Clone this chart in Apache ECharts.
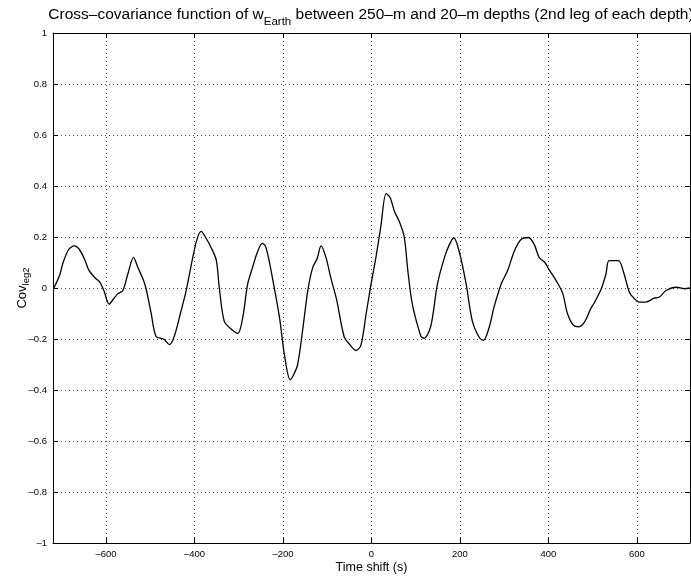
<!DOCTYPE html>
<html>
<head>
<meta charset="utf-8">
<script src="https://cdn.jsdelivr.net/npm/echarts@6/dist/echarts.min.js"></script>
<style>html,body{margin:0;padding:0;background:#fff}#c{width:691px;height:577px}</style>
</head>
<body>
<div id="c"></div>
<script>
// Time shift (s)
const timeShift = [-718,-705,-698,-685,-672,-660,-648,-639,-625,-615,-605,-593,-584,-574,-562,-550,-538,-528,-517,-510,-498,-487,-470,-457,-446,-432,-419,-397,-385,-374,-363,-351,-344,-333,-318,-302,-291,-280,-269,-258,-247,-240,-233,-224,-208,-197,-184,-176,-167,-156,-144,-133,-123,-114,-103,-92,-79,-62,-50,-35,-24,-12,-1,10,21,33,42,52,63,74,82,90,97,112,119,134,149,165,176,186,198,214,228,244,253,266,277,293,308,323,338,355,368,379,392,402,417,432,443,456,468,481,496,503,519,530,537,558,571,583,596,605,620,639,651,666,689,707,720];
// Cov_leg2 values
const covLeg2 = [0,0.05,0.095,0.15,0.165,0.15,0.11,0.07,0.04,0.025,-0.01,-0.063,-0.045,-0.023,-0.01,0.06,0.12,0.08,0.037,0,-0.1,-0.19,-0.2,-0.222,-0.19,-0.1,-0.01,0.175,0.222,0.195,0.16,0.11,0,-0.13,-0.16,-0.178,-0.115,0.015,0.08,0.14,0.175,0.165,0.12,0.04,-0.115,-0.26,-0.36,-0.34,-0.3,-0.17,-0.01,0.08,0.115,0.165,0.12,0.04,-0.045,-0.19,-0.22,-0.245,-0.225,-0.1,0.015,0.12,0.24,0.37,0.355,0.3,0.26,0.2,0.07,-0.04,-0.1,-0.19,-0.197,-0.15,0.015,0.12,0.17,0.197,0.145,0.015,-0.13,-0.195,-0.205,-0.155,-0.075,0.015,0.07,0.145,0.19,0.198,0.17,0.12,0.1,0.07,0.03,-0.02,-0.1,-0.145,-0.152,-0.135,-0.08,-0.06,-0.005,0.055,0.107,0.107,0.055,-0.017,-0.045,-0.055,-0.055,-0.04,-0.035,-0.01,0.003,-0.003,0];
const xTicks = [-600,-400,-200,0,200,400,600];
const xRange = [-720, 720];
const yRange = [-1, 1];
const yStep = 0.2;

const FONT = 'Liberation Sans, Arial, Helvetica, sans-serif';
const fmtMinus = v => String(Math.round(v*10)/10).replace('-', '\u2013');
const data = timeShift.map((t,i)=>[t, covLeg2[i]]);
const gridLine = {show:true, lineStyle:{color:'#444', type:[1,3], width:1}};

const chart = echarts.init(document.getElementById('c'), null, {renderer:'canvas'});
chart.setOption({
  animation:false,
  backgroundColor:'#fff',
  title:{
    text:'{a|Cross\u2013covariance function of w}{s|Earth}{a| between 250\u2013m and 20\u2013m depths (2nd leg of each depth)}',
    left:366, top:1, textAlign:'center',
    textStyle:{fontWeight:'normal', rich:{
      a:{fontFamily:FONT,fontSize:15.5,fontWeight:'normal',color:'#000',verticalAlign:'bottom',lineHeight:17},
      s:{fontFamily:FONT,fontSize:11.5,fontWeight:'normal',color:'#000',verticalAlign:'bottom',lineHeight:11,padding:[0,0,-5,0]}
    }}
  },
  grid:{left:53, right:1, top:33, bottom:34, containLabel:false, outerBoundsMode:'none'},
  xAxis:[{
    type:'value', min:xRange[0], max:xRange[1], position:'bottom',
    name:'Time shift (s)', nameLocation:'middle', nameGap:18, nameMoveOverlap:false,
    nameTextStyle:{fontFamily:FONT,fontSize:12.5,color:'#000'},
    axisLine:{show:true,onZero:false,lineStyle:{color:'#000',width:1}},
    axisTick:{show:true,inside:true,length:5,customValues:xTicks,lineStyle:{color:'#000'}},
    axisLabel:{customValues:xTicks,fontFamily:FONT,fontSize:9.5,color:'#000',margin:6,formatter:v=>fmtMinus(v)},
    splitLine:Object.assign({customValues:xTicks},gridLine)
  },{
    type:'value', min:xRange[0], max:xRange[1], position:'top',
    axisLine:{show:true,onZero:false,lineStyle:{color:'#000',width:1}},
    axisTick:{show:true,inside:true,length:5,customValues:xTicks,lineStyle:{color:'#000'}},
    axisLabel:{show:false}, splitLine:{show:false}
  }],
  yAxis:[{
    type:'value', min:yRange[0], max:yRange[1], interval:yStep, position:'left',
    name:'{a|Cov}{s|leg2}', nameLocation:'middle', nameGap:24, nameRotate:90, nameMoveOverlap:false,
    nameTextStyle:{rich:{
      a:{fontFamily:FONT,fontSize:13,color:'#000'},
      s:{fontFamily:FONT,fontSize:9.5,color:'#000',padding:[0,0,-8,0]}
    }},
    axisLine:{show:true,onZero:false,lineStyle:{color:'#000',width:1}},
    axisTick:{show:true,inside:true,length:5,lineStyle:{color:'#000'}},
    axisLabel:{fontFamily:FONT,fontSize:9.5,color:'#000',margin:6,formatter:v=>fmtMinus(v)},
    splitLine:gridLine
  },{
    type:'value', min:yRange[0], max:yRange[1], interval:yStep, position:'right',
    axisLine:{show:true,onZero:false,lineStyle:{color:'#000',width:1}},
    axisTick:{show:true,inside:true,length:5,lineStyle:{color:'#000'}},
    axisLabel:{show:false}, splitLine:{show:false}
  }],
  series:[{
    type:'line', data:data, xAxisIndex:0, yAxisIndex:0,
    showSymbol:false, smooth:0.3,
    lineStyle:{color:'#000', width:1.3}
  }]
});
</script>
</body>
</html>
